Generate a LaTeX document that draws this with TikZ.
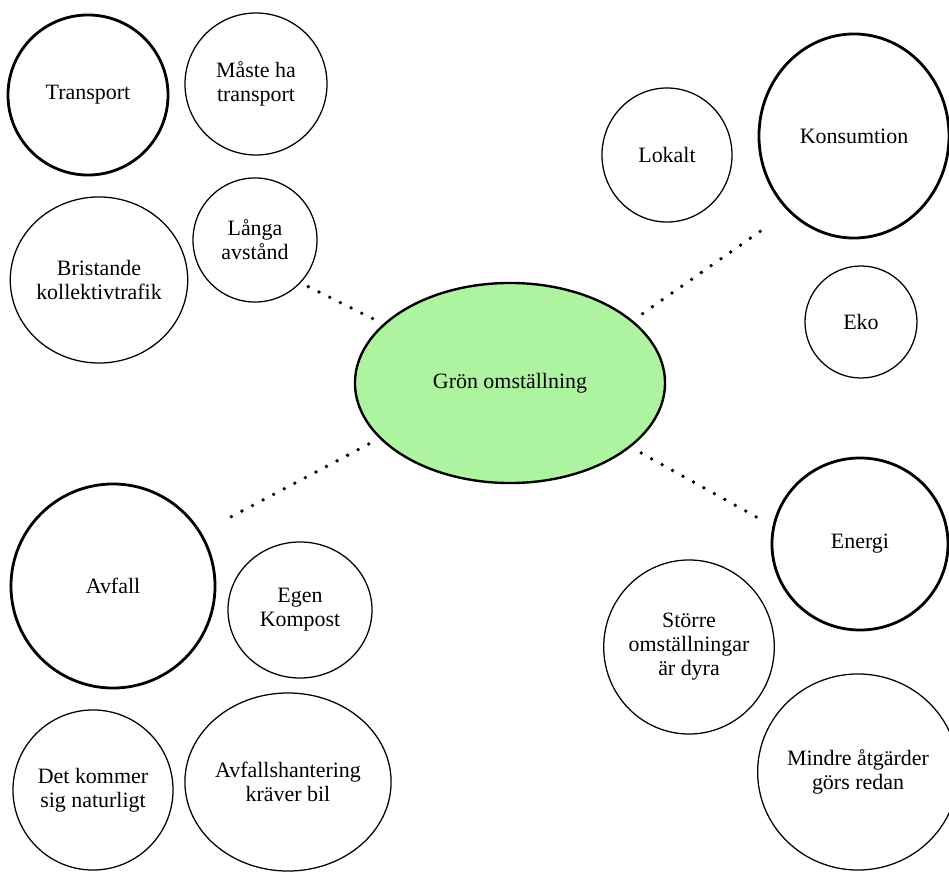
\documentclass[tikz,border=0pt]{standalone}
\usepackage{fontspec}
\setmainfont{Liberation Serif}
\usetikzlibrary{shapes.geometric}
\definecolor{grongreen}{RGB}{174,243,160}

\begin{document}
\begin{tikzpicture}[x=0.025cm,y=-0.025cm,
	bubble/.style={draw,ellipse,line width=0.9pt,inner sep=0pt,align=center,
		font=\fontsize{15.6pt}{17pt}\selectfont},
	topic/.style={bubble,line width=2pt},
	dotline/.style={line width=2.7pt,line cap=round,dash pattern=on 0pt off 8.5pt,shorten <=8.5pt}]
	\useasboundingbox (0,0) rectangle (949,873);

	%centre
	\node[bubble,line width=1.7pt,fill=grongreen,minimum width=7.75cm,minimum height=5cm] (gron) at (510,383) {Grön omställning};

	%topics
	\node[topic,minimum width=4cm,minimum height=4cm]     (transport)  at (88,95)   {Transport};
	\node[topic,minimum width=4.75cm,minimum height=5.1cm] (konsumtion) at (854,136)  {Konsumtion};
	\node[topic,minimum width=5.1cm,minimum height=5.1cm] (avfall)     at (113,586)  {Avfall};
	\node[topic,minimum width=4.4cm,minimum height=4.3cm] (energi)     at (860,544)  {Energi};

	%transport
	\node[bubble,minimum width=3.55cm,minimum height=3.55cm] (maste)     at (256,84)  {Måste ha\\transport};
	\node[bubble,minimum width=4.3cm,minimum height=4.15cm]  (bristande) at (99,280)  {Bristande\\kollektivtrafik};
	\node[bubble,minimum width=3.1cm,minimum height=3.1cm]   (langa)     at (255,240) {Långa\\avstånd};
	%konsumtion
	\node[bubble,minimum width=3.25cm,minimum height=3.35cm] (lokalt) at (667,155) {Lokalt};
	\node[bubble,minimum width=2.8cm,minimum height=2.8cm]    (eko)    at (861,322) {Eko};
	%avfall
	\node[bubble,minimum width=3.6cm,minimum height=3.4cm]   (egen)      at (300,610) {Egen\\Kompost};
	\node[bubble,minimum width=4cm,minimum height=4cm]       (detkommer) at (93,790)  {Det kommer\\sig naturligt};
	\node[bubble,minimum width=4.83cm,minimum height=4.45cm] (hantering) at (288,782) {Avfallshantering\\kräver bil};
	%energi
	\node[bubble,minimum width=4.15cm,minimum height=4.35cm] (storre) at (689,647) {Större\\omställningar\\är dyra};
	\node[bubble,minimum width=4.8cm,minimum height=4.9cm]   (mindre) at (858,772) {Mindre åtgärder\\görs redan};

	%dotted links
	\coordinate (tl) at (307,286);
	\coordinate (tr) at (765,228);
	\coordinate (bl) at (227,519);
	\coordinate (br) at (760,519);
	\draw[dotline] (gron.155)   -- (tl);
	\draw[dotline] (gron.27.4)  -- (tr);
	\draw[dotline] (gron.203.1) -- (bl);
	\draw[dotline] (gron.332.6) -- (br);
\end{tikzpicture}
\end{document}
